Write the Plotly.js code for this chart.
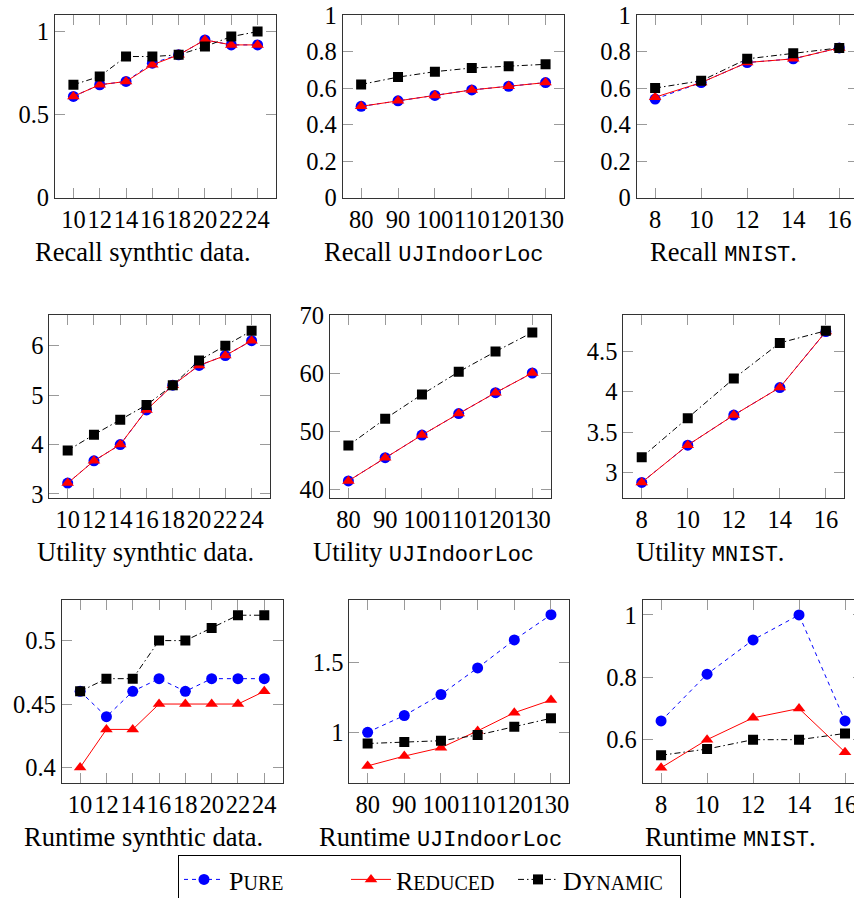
<!DOCTYPE html>
<html>
<head>
<meta charset="utf-8">
<script src="https://cdn.plot.ly/plotly-3.0.1.min.js"></script>
<style>
html, body { margin:0; padding:0; overflow:hidden; background:#fff; }
#chart { width:870px; height:915px; }
</style>
</head>
<body>
<div id="chart"></div>
<script>
// ---- categories (x values) ----
const xSynth = [10, 12, 14, 16, 18, 20, 22, 24];
const xUJ = [80, 90, 100, 110, 120, 130];
const xMNIST = [8, 10, 12, 14, 16];

// ---- Recall ----
const recallSynthPure    = [0.61, 0.68, 0.70, 0.81, 0.86, 0.95, 0.92, 0.92];
const recallSynthReduced = [0.61, 0.68, 0.70, 0.80, 0.86, 0.95, 0.92, 0.92];
const recallSynthDynamic = [0.68, 0.73, 0.85, 0.85, 0.86, 0.91, 0.97, 1.00];
const recallUJPure    = [0.50, 0.53, 0.56, 0.59, 0.61, 0.63];
const recallUJReduced = [0.50, 0.53, 0.56, 0.59, 0.61, 0.63];
const recallUJDynamic = [0.62, 0.66, 0.69, 0.71, 0.72, 0.73];
const recallMNISTPure    = [0.54, 0.63, 0.74, 0.76, 0.82];
const recallMNISTReduced = [0.55, 0.63, 0.74, 0.76, 0.82];
const recallMNISTDynamic = [0.60, 0.64, 0.76, 0.79, 0.82];

// ---- Utility ----
const utilSynthPure    = [3.22, 3.67, 4.00, 4.70, 5.20, 5.60, 5.80, 6.10];
const utilSynthReduced = [3.22, 3.67, 4.00, 4.70, 5.20, 5.60, 5.80, 6.10];
const utilSynthDynamic = [3.88, 4.20, 4.50, 4.80, 5.20, 5.70, 6.00, 6.30];
const utilUJPure    = [41.4, 45.4, 49.3, 53.0, 56.6, 60.0];
const utilUJReduced = [41.4, 45.4, 49.3, 53.0, 56.6, 60.0];
const utilUJDynamic = [47.5, 52.1, 56.3, 60.2, 63.7, 67.0];
const utilMNISTPure    = [2.88, 3.34, 3.71, 4.05, 4.74];
const utilMNISTReduced = [2.88, 3.34, 3.71, 4.05, 4.74];
const utilMNISTDynamic = [3.19, 3.67, 4.16, 4.60, 4.75];

// ---- Runtime ----
const runSynthPure    = [0.46, 0.44, 0.46, 0.47, 0.46, 0.47, 0.47, 0.47];
const runSynthReduced = [0.40, 0.43, 0.43, 0.45, 0.45, 0.45, 0.45, 0.46];
const runSynthDynamic = [0.46, 0.47, 0.47, 0.50, 0.50, 0.51, 0.52, 0.52];
const runUJPure    = [1.00, 1.12, 1.27, 1.46, 1.66, 1.84];
const runUJReduced = [0.76, 0.83, 0.89, 1.01, 1.14, 1.23];
const runUJDynamic = [0.92, 0.93, 0.94, 0.98, 1.04, 1.10];
const runMNISTPure    = [0.66, 0.81, 0.92, 1.00, 0.66];
const runMNISTReduced = [0.51, 0.60, 0.67, 0.70, 0.56];
const runMNISTDynamic = [0.55, 0.57, 0.60, 0.60, 0.62];

// ---- tick labels ----
const yTicksRecall01 = [0, 0.5, 1];
const yTextRecall01 = ['0', '0.5', '1'];
const yTicksRecall = [0, 0.2, 0.4, 0.6, 0.8, 1];
const yTextRecall = ['0', '0.2', '0.4', '0.6', '0.8', '1'];
const yTicksUtilSynth = [3, 4, 5, 6];
const yTextUtilSynth = ['3', '4', '5', '6'];
const yTicksUtilUJ = [40, 50, 60, 70];
const yTextUtilUJ = ['40', '50', '60', '70'];
const yTicksUtilMNIST = [3, 3.5, 4, 4.5];
const yTextUtilMNIST = ['3', '3.5', '4', '4.5'];
const yTicksRunSynth = [0.4, 0.45, 0.5];
const yTextRunSynth = ['0.4', '0.45', '0.5'];
const yTicksRunUJ = [1, 1.5];
const yTextRunUJ = ['1', '1.5'];
const yTicksRunMNIST = [0.6, 0.8, 1];
const yTextRunMNIST = ['0.6', '0.8', '1'];

const seriesNames = ['P<span style="font-size:20px">URE</span>',
                     'R<span style="font-size:20px">EDUCED</span>',
                     'D<span style="font-size:20px">YNAMIC</span>'];

const TT = 'font-family:\'Liberation Mono\', monospace;font-size:22px';
const captions = [
  'Recall synthtic data.',
  'Recall <span style="' + TT + '">UJIndoorLoc</span>',
  'Recall <span style="' + TT + '">MNIST</span>.',
  'Utility synthtic data.',
  'Utility <span style="' + TT + '">UJIndoorLoc</span>',
  'Utility <span style="' + TT + '">MNIST</span>.',
  'Runtime synthtic data.',
  'Runtime <span style="' + TT + '">UJIndoorLoc</span>',
  'Runtime <span style="' + TT + '">MNIST</span>.'
];

// ---- geometry (pixels); canvas is taller/wider than the window so the legend and right column are clipped ----
const W = 870, H = 915;
const panels = [
  {x: xSynth, s: [recallSynthPure, recallSynthReduced, recallSynthDynamic], box: [55, 276, 15, 197.7], xr: [8.6, 25.4], yr: [0, 1.1], yt: yTicksRecall01, ytt: yTextRecall01, cap: [142.5, 252]},
  {x: xUJ, s: [recallUJPure, recallUJReduced, recallUJDynamic], box: [342.7, 564, 15, 197.7], xr: [75, 135], yr: [0, 1], yt: yTicksRecall, ytt: yTextRecall, cap: [434, 252]},
  {x: xMNIST, s: [recallMNISTPure, recallMNISTReduced, recallMNISTDynamic], box: [636.7, 857.7, 15, 197.7], xr: [7.2, 16.8], yr: [0, 1], yt: yTicksRecall, ytt: yTextRecall, cap: [723, 252]},
  {x: xSynth, s: [utilSynthPure, utilSynthReduced, utilSynthDynamic], box: [49.3, 270, 315, 497.7], xr: [8.6, 25.4], yr: [2.925, 6.62], yt: yTicksUtilSynth, ytt: yTextUtilSynth, cap: [145.5, 552]},
  {x: xUJ, s: [utilUJPure, utilUJReduced, utilUJDynamic], box: [330, 550.7, 315, 497.7], xr: [75, 135], yr: [38.5, 70], yt: yTicksUtilUJ, ytt: yTextUtilUJ, cap: [423.5, 552]},
  {x: xMNIST, s: [utilMNISTPure, utilMNISTReduced, utilMNISTDynamic], box: [623.3, 844.3, 315, 497.7], xr: [7.2, 16.8], yr: [2.692, 4.944], yt: yTicksUtilMNIST, ytt: yTextUtilMNIST, cap: [710, 552]},
  {x: xSynth, s: [runSynthPure, runSynthReduced, runSynthDynamic], box: [61.7, 282.7, 600, 782.7], xr: [8.6, 25.4], yr: [0.388, 0.532], yt: yTicksRunSynth, ytt: yTextRunSynth, cap: [143, 837]},
  {x: xUJ, s: [runUJPure, runUJReduced, runUJDynamic], box: [349.3, 569.3, 600, 782.7], xr: [75, 135], yr: [0.64, 1.945], yt: yTicksRunUJ, ytt: yTextRunUJ, cap: [440, 837]},
  {x: xMNIST, s: [runMNISTPure, runMNISTReduced, runMNISTDynamic], box: [642.7, 863.4, 600, 782.7], xr: [7.2, 16.8], yr: [0.462, 1.048], yt: yTicksRunMNIST, ytt: yTextRunMNIST, cap: [730, 837]}
];

const styles = [
  {color: '#0000ff', dash: '4px,4px', symbol: 'circle', size: 11},
  {color: '#ff0000', dash: 'solid', symbol: 'triangle-up', size: 11},
  {color: '#000000', dash: '6px,3px,1.5px,3px', symbol: 'square', size: 10}
];

const serif = "'Liberation Serif', 'Times New Roman', serif";
const traces = [];
const layout = {
  width: W, height: H,
  margin: {l: 0, r: 0, t: 0, b: 0},
  paper_bgcolor: '#fff', plot_bgcolor: '#fff',
  font: {family: serif, size: 22, color: '#000'},
  showlegend: true,
  legend: {
    orientation: 'h', x: 178 / W, y: 1 - 855 / H, xanchor: 'left', yanchor: 'top',
    bordercolor: '#000', borderwidth: 1, bgcolor: '#fff',
    font: {family: serif, size: 26, color: '#000'},
    itemwidth: 40, tracegroupgap: 0,
    entrywidth: 112, entrywidthmode: 'pixels'
  },
  annotations: []
};

panels.forEach((p, i) => {
  const n = i + 1;
  const xa = 'x' + (n === 1 ? '' : n), ya = 'y' + (n === 1 ? '' : n);
  p.s.forEach((vals, k) => {
    const st = styles[k];
    traces.push({
      type: 'scatter', mode: 'lines+markers',
      x: p.x, y: vals, xaxis: xa, yaxis: ya,
      name: seriesNames[k], showlegend: i === 0,
      line: {color: st.color, width: 1, dash: st.dash},
      marker: {color: st.color, symbol: st.symbol, size: st.size, line: {width: 0}},
      cliponaxis: true
    });
  });
  const axBase = {
    showgrid: false, zeroline: false, showline: true, linecolor: '#333', linewidth: 1,
    mirror: 'ticks', ticks: 'inside', ticklen: 10, tickwidth: 1, tickcolor: '#9a9a9a',
    tickfont: {family: serif, size: 24.5, color: '#000'}, fixedrange: true
  };
  layout['xaxis' + (n === 1 ? '' : n)] = Object.assign({}, axBase, {
    domain: [p.box[0] / W, p.box[1] / W], range: p.xr, anchor: ya,
    tickmode: 'array', tickvals: p.x, ticktext: p.x.map(String), tickangle: 0
  });
  layout['yaxis' + (n === 1 ? '' : n)] = Object.assign({}, axBase, {
    domain: [1 - p.box[3] / H, 1 - p.box[2] / H], range: p.yr, anchor: xa,
    tickmode: 'array', tickvals: p.yt, ticktext: p.ytt
  });
  layout.annotations.push({
    xref: 'paper', yref: 'paper', x: p.cap[0] / W, y: 1 - p.cap[1] / H,
    xanchor: 'center', yanchor: 'middle', showarrow: false,
    text: captions[i], font: {family: serif, size: 26.5, color: '#000'}
  });
});

Plotly.newPlot('chart', traces, layout, {staticPlot: true});
</script>
</body>
</html>
